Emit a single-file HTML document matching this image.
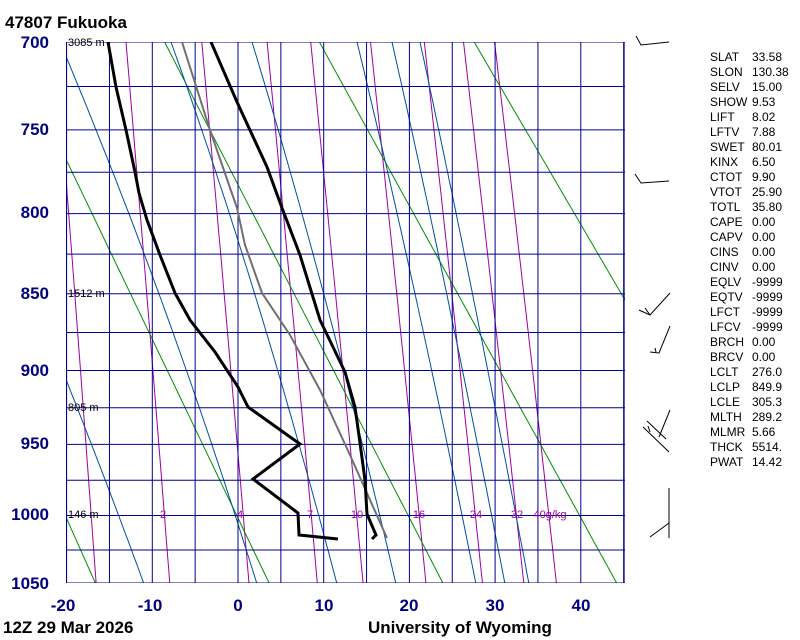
<!DOCTYPE html>
<html><head><meta charset="utf-8"><style>
body{margin:0;background:#fff;width:800px;height:640px;overflow:hidden;font-family:"Liberation Sans",sans-serif}
svg{position:absolute;left:0;top:0}
</style></head><body>
<svg id="s" width="800" height="640" xmlns="http://www.w3.org/2000/svg">
<defs><clipPath id="c"><rect x="66" y="42" width="559" height="541"/></clipPath></defs>
<g id="lines" clip-path="url(#c)"></g>
<g font-family="Liberation Sans, sans-serif" font-weight="bold" font-size="17" fill="#000080" text-anchor="end">
<text x="49" y="48">700</text><text x="49" y="135">750</text><text x="49" y="218">800</text>
<text x="49" y="299">850</text><text x="49" y="376">900</text><text x="49" y="449">950</text>
<text x="49" y="520">1000</text><text x="49" y="589">1050</text>
</g>
<g font-family="Liberation Sans, sans-serif" font-weight="bold" font-size="17" fill="#000080" text-anchor="middle">
<text x="63" y="611">-20</text><text x="150" y="611">-10</text><text x="238" y="611">0</text>
<text x="324" y="611">10</text><text x="409" y="611">20</text><text x="495" y="611">30</text><text x="581" y="611">40</text>
</g>
<g font-family="Liberation Sans, sans-serif" font-weight="bold" font-size="17" fill="#000">
<text x="5" y="28">47807  Fukuoka</text>
<text x="3" y="633">12Z 29 Mar 2026</text>
<text x="368" y="633">University of Wyoming</text>
</g>
<g font-family="Liberation Sans, sans-serif" font-size="11" fill="#000">
<text x="68" y="46">3085 m</text><text x="68" y="297">1512 m</text>
<text x="68" y="411">805 m</text><text x="68" y="518">146 m</text>
</g>
<g font-family="Liberation Sans, sans-serif" font-size="11" fill="#a000a0" text-anchor="middle">
<text x="163" y="518">2</text><text x="240" y="518">4</text><text x="310" y="518">7</text>
<text x="357" y="518">10</text><text x="419" y="518">16</text><text x="476" y="518">24</text>
<text x="517" y="518">32</text><text x="550" y="518">40g/kg</text>
</g>
<g id="tx" font-family="Liberation Sans, sans-serif" font-size="12" fill="#000"></g>
<g stroke="#000" stroke-width="1" fill="none">
<polyline points="636,36 641,45 669,42"/>
<polyline points="635,174 641,183 669,181"/>
<polyline points="670,293 650,315 639,310"/><line x1="650" y1="315" x2="645" y2="308"/>
<polyline points="670,326 659,353 650,352"/><line x1="656" y1="352" x2="655" y2="348"/>
<line x1="670" y1="410" x2="659" y2="437"/><line x1="643" y1="427" x2="669" y2="452"/><line x1="647" y1="421" x2="666" y2="439"/><line x1="650" y1="432" x2="648" y2="426"/>
<line x1="669" y1="488" x2="669" y2="538"/><line x1="669" y1="523" x2="650" y2="537"/>
</g>
</svg>
<script>
var NS="http://www.w3.org/2000/svg",g=document.getElementById('lines');
function Y(p){return 42+677*(Math.pow(p,0.286)-Math.pow(700,0.286));}
function X(t){return 238+8.57*t;}
function add(tag,a){var e=document.createElementNS(NS,tag);for(var k in a)e.setAttribute(k,a[k]);g.appendChild(e);return e;}
function pl(pts,col,w){add('polyline',{points:pts.map(function(q){return q[0].toFixed(1)+','+q[1].toFixed(1)}).join(' '),fill:'none',stroke:col,'stroke-width':w});}
[1,2,4,7,10,16,24,32,40].forEach(function(w){var pts=[];for(var p=700;p<=1050;p+=10){var e=w*p/(622+w);var l=Math.log(e/6.112);var t=243.5*l/(17.67-l);pts.push([X(t),Y(p)]);}pl(pts,'#a000a0',1);});
[253,273,293,313,333,353].forEach(function(th){var pts=[];for(var p=700;p<=1050;p+=10){pts.push([X(th*Math.pow(p/1000,0.286)-273.15),Y(p)]);}pl(pts,'#009000',1);});
function rs(T,p){var t=T-273.15;var e=6.112*Math.exp(17.67*t/(t+243.5));return 0.622*e/(p-e);}
// [bottom x, top x (at 700) or null]
[[144,null],[257,60],[337,171],[396,252],[476,357],[505,392],[529,420]].forEach(function(b){
 var t0=(b[0]-238)/8.57,T=t0+273.15,p=1050,raw=[[t0,p]];
 while(p>700){var r=rs(T,p);var d=(287*T+2.5e6*r)/(1004+2.5e6*2.5e6*r*0.622/(287*T*T))/p;T-=d;p-=1;if(p%5==0)raw.push([T-273.15,p]);}
 var tc=raw[raw.length-1][0],corr=0;if(b[1]!==null)corr=(b[1]-238)/8.57-tc;
 var y0=Y(1050),y1=Y(700);
 pl(raw.map(function(q){var y=Y(q[1]);return [X(q[0]+corr*(y0-y)/(y0-y1)),y];}),'#0050a0',1);});
for(var t=-20;t<=45;t+=5)add('line',{x1:X(t),y1:42,x2:X(t),y2:583,stroke:'#000090','stroke-width':1});
for(var p=700;p<=1050;p+=25)add('line',{x1:66,y1:Y(p),x2:625,y2:Y(p),stroke:'#000090','stroke-width':1});
add('rect',{x:66,y:42,width:559,height:541,fill:'none',stroke:'#000090'});
pl([[182,42],[210,130],[237,208],[245,245],[262,293],[290,335],[320,390],[350,455],[387,538]],'#707070',2);
pl([[211,42],[237,102],[267,167],[282,208],[300,255],[320,320],[345,372],[355,407],[360,443],[365,480],[367,514],[376,535],[372,539]],'#000',3);
pl([[108,42],[116,87],[126,130],[135,172],[139,193],[147,220],[160,255],[175,293],[190,320],[215,352],[238,387],[248,407],[300,444],[253,479],[298,513],[299,535],[338,539]],'#000',3);
var rows=[["SLAT","33.58"],["SLON","130.38"],["SELV","15.00"],["SHOW","9.53"],["LIFT","8.02"],["LFTV","7.88"],["SWET","80.01"],["KINX","6.50"],["CTOT","9.90"],["VTOT","25.90"],["TOTL","35.80"],["CAPE","0.00"],["CAPV","0.00"],["CINS","0.00"],["CINV","0.00"],["EQLV","-9999"],["EQTV","-9999"],["LFCT","-9999"],["LFCV","-9999"],["BRCH","0.00"],["BRCV","0.00"],["LCLT","276.0"],["LCLP","849.9"],["LCLE","305.3"],["MLTH","289.2"],["MLMR","5.66"],["THCK","5514."],["PWAT","14.42"]];
var tx=document.getElementById('tx');
rows.forEach(function(r,i){var y=61+i*15.0;[[710,r[0]],[752,r[1]]].forEach(function(c){var e=document.createElementNS(NS,'text');e.setAttribute('x',c[0]);e.setAttribute('y',y);e.textContent=c[1];tx.appendChild(e);});});
</script>
</body></html>
